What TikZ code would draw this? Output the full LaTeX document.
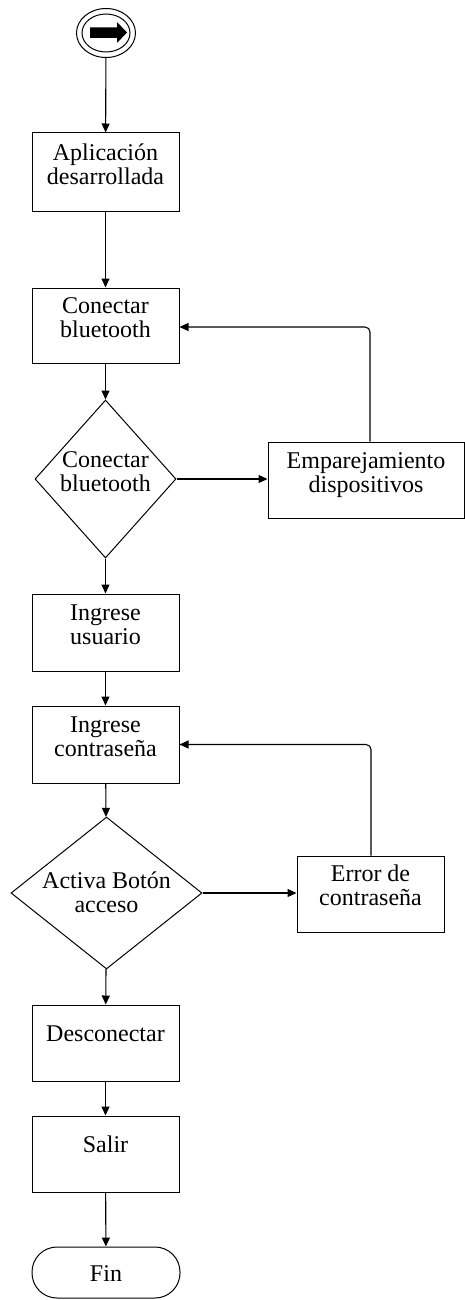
\documentclass[tikz,border=0pt]{standalone}
\usepackage{fontspec}
\setmainfont{Liberation Serif}
\usetikzlibrary{arrows.meta,shapes.geometric,calc}
\begin{document}
\begin{tikzpicture}[x=1pt,y=-1pt,
  box/.style={draw,line width=1pt,minimum width=147pt,minimum height=76pt,inner sep=0pt},
  dia/.style={draw,diamond,line width=1pt,inner sep=0pt},
  txt/.style={align=center,inner sep=0pt,font=\fontsize{24}{24.5}\selectfont},
  arr/.style={draw,line width=1.1pt,-{Triangle[length=9pt,width=8pt]}}]
\useasboundingbox (0,0) rectangle (465,1300);

% start symbol
\node[draw,ellipse,line width=1pt,minimum width=59pt,minimum height=49pt,inner sep=0pt] (s) at (106,33) {};
\node[draw,ellipse,line width=1pt,minimum width=48pt,minimum height=38pt,inner sep=0pt] (si) at (s.center) {};
\fill (90,27.5) -- (117,27.5) -- (117,22) -- (127,32.5) -- (117,43) -- (117,38) -- (90,38) -- cycle;

% boxes
\node[box,minimum height=78pt] (b1) at (105.5,172) {};
\node[box,minimum height=75pt] (b2) at (105.5,325.5) {};
\node[dia,minimum width=141pt,minimum height=158pt] (d1) at (105.5,479) {};
\node[box,minimum width=196pt] (e1) at (366,480) {};
\node[box,minimum height=77pt] (b3) at (105.5,632.5) {};
\node[box,minimum height=77pt] (b4) at (105.5,744.5) {};
\node[dia,minimum width=191pt,minimum height=152pt] (d2) at (106.5,893) {};
\node[box,minimum height=76pt] (e2) at (370.5,894) {};
\node[box,minimum height=76pt] (b5) at (105.5,1043) {};
\node[box,minimum height=76pt] (b6) at (105.5,1154) {};
\node[draw,line width=1pt,rounded corners=25pt,minimum width=148pt,minimum height=51pt,inner sep=0pt] (fin) at (106,1272.5) {};

% texts
\node[txt,yshift=4.5pt] (t1) at (b1) {\strut Aplicación\\\strut desarrollada};
\node[txt,yshift=5pt] (t2) at (b2) {\strut Conectar\\\strut bluetooth};
\node[txt,yshift=4.5pt] (t3) at (d1) {\strut Conectar\\\strut bluetooth};
\node[txt,yshift=4.5pt] (t4) at (e1) {\strut Emparejamiento\\\strut dispositivos};
\node[txt,yshift=5pt] (t5) at (b3) {\strut Ingrese\\\strut usuario};
\node[txt,yshift=5pt] (t6) at (b4) {\strut Ingrese\\\strut contraseña};
\node[txt,yshift=-2.5pt] (t7) at (d2) {\strut Activa Botón\\\strut acceso};
\node[txt,yshift=5.5pt] (t8) at (e2) {\strut Error de\\\strut contraseña};
\node[txt,yshift=6pt] (t9) at (b5) {\strut Desconectar};
\node[txt,yshift=6pt] (t10) at (b6) {\strut Salir};
\node[txt,yshift=-4.5pt] (t11) at (fin) {\strut Fin};

% connectors
\draw[arr] (s) -- (b1);
\draw[arr] (b1) -- (b2);
\draw[arr] (b2) -- (d1);
\draw[arr] (d1.east) -- (e1.west |- d1.east);
\draw[arr,rounded corners=5pt] ([xshift=4pt]e1.north) |- ([yshift=-1.5pt]b2.east);
\draw[arr] (d1) -- (b3);
\draw[arr] (b3) -- (b4);
\draw[arr] (b4) -- (d2);
\draw[arr] (d2.east) -- (e2.west |- d2.east);
\draw[arr,rounded corners=5pt] ([xshift=0.5pt]e2.north) |- (b4.east);
\draw[arr] (d2) -- (b5);
\draw[arr] (b5) -- (b6);
\draw[arr] (b6) -- (fin);
\end{tikzpicture}
\end{document}
